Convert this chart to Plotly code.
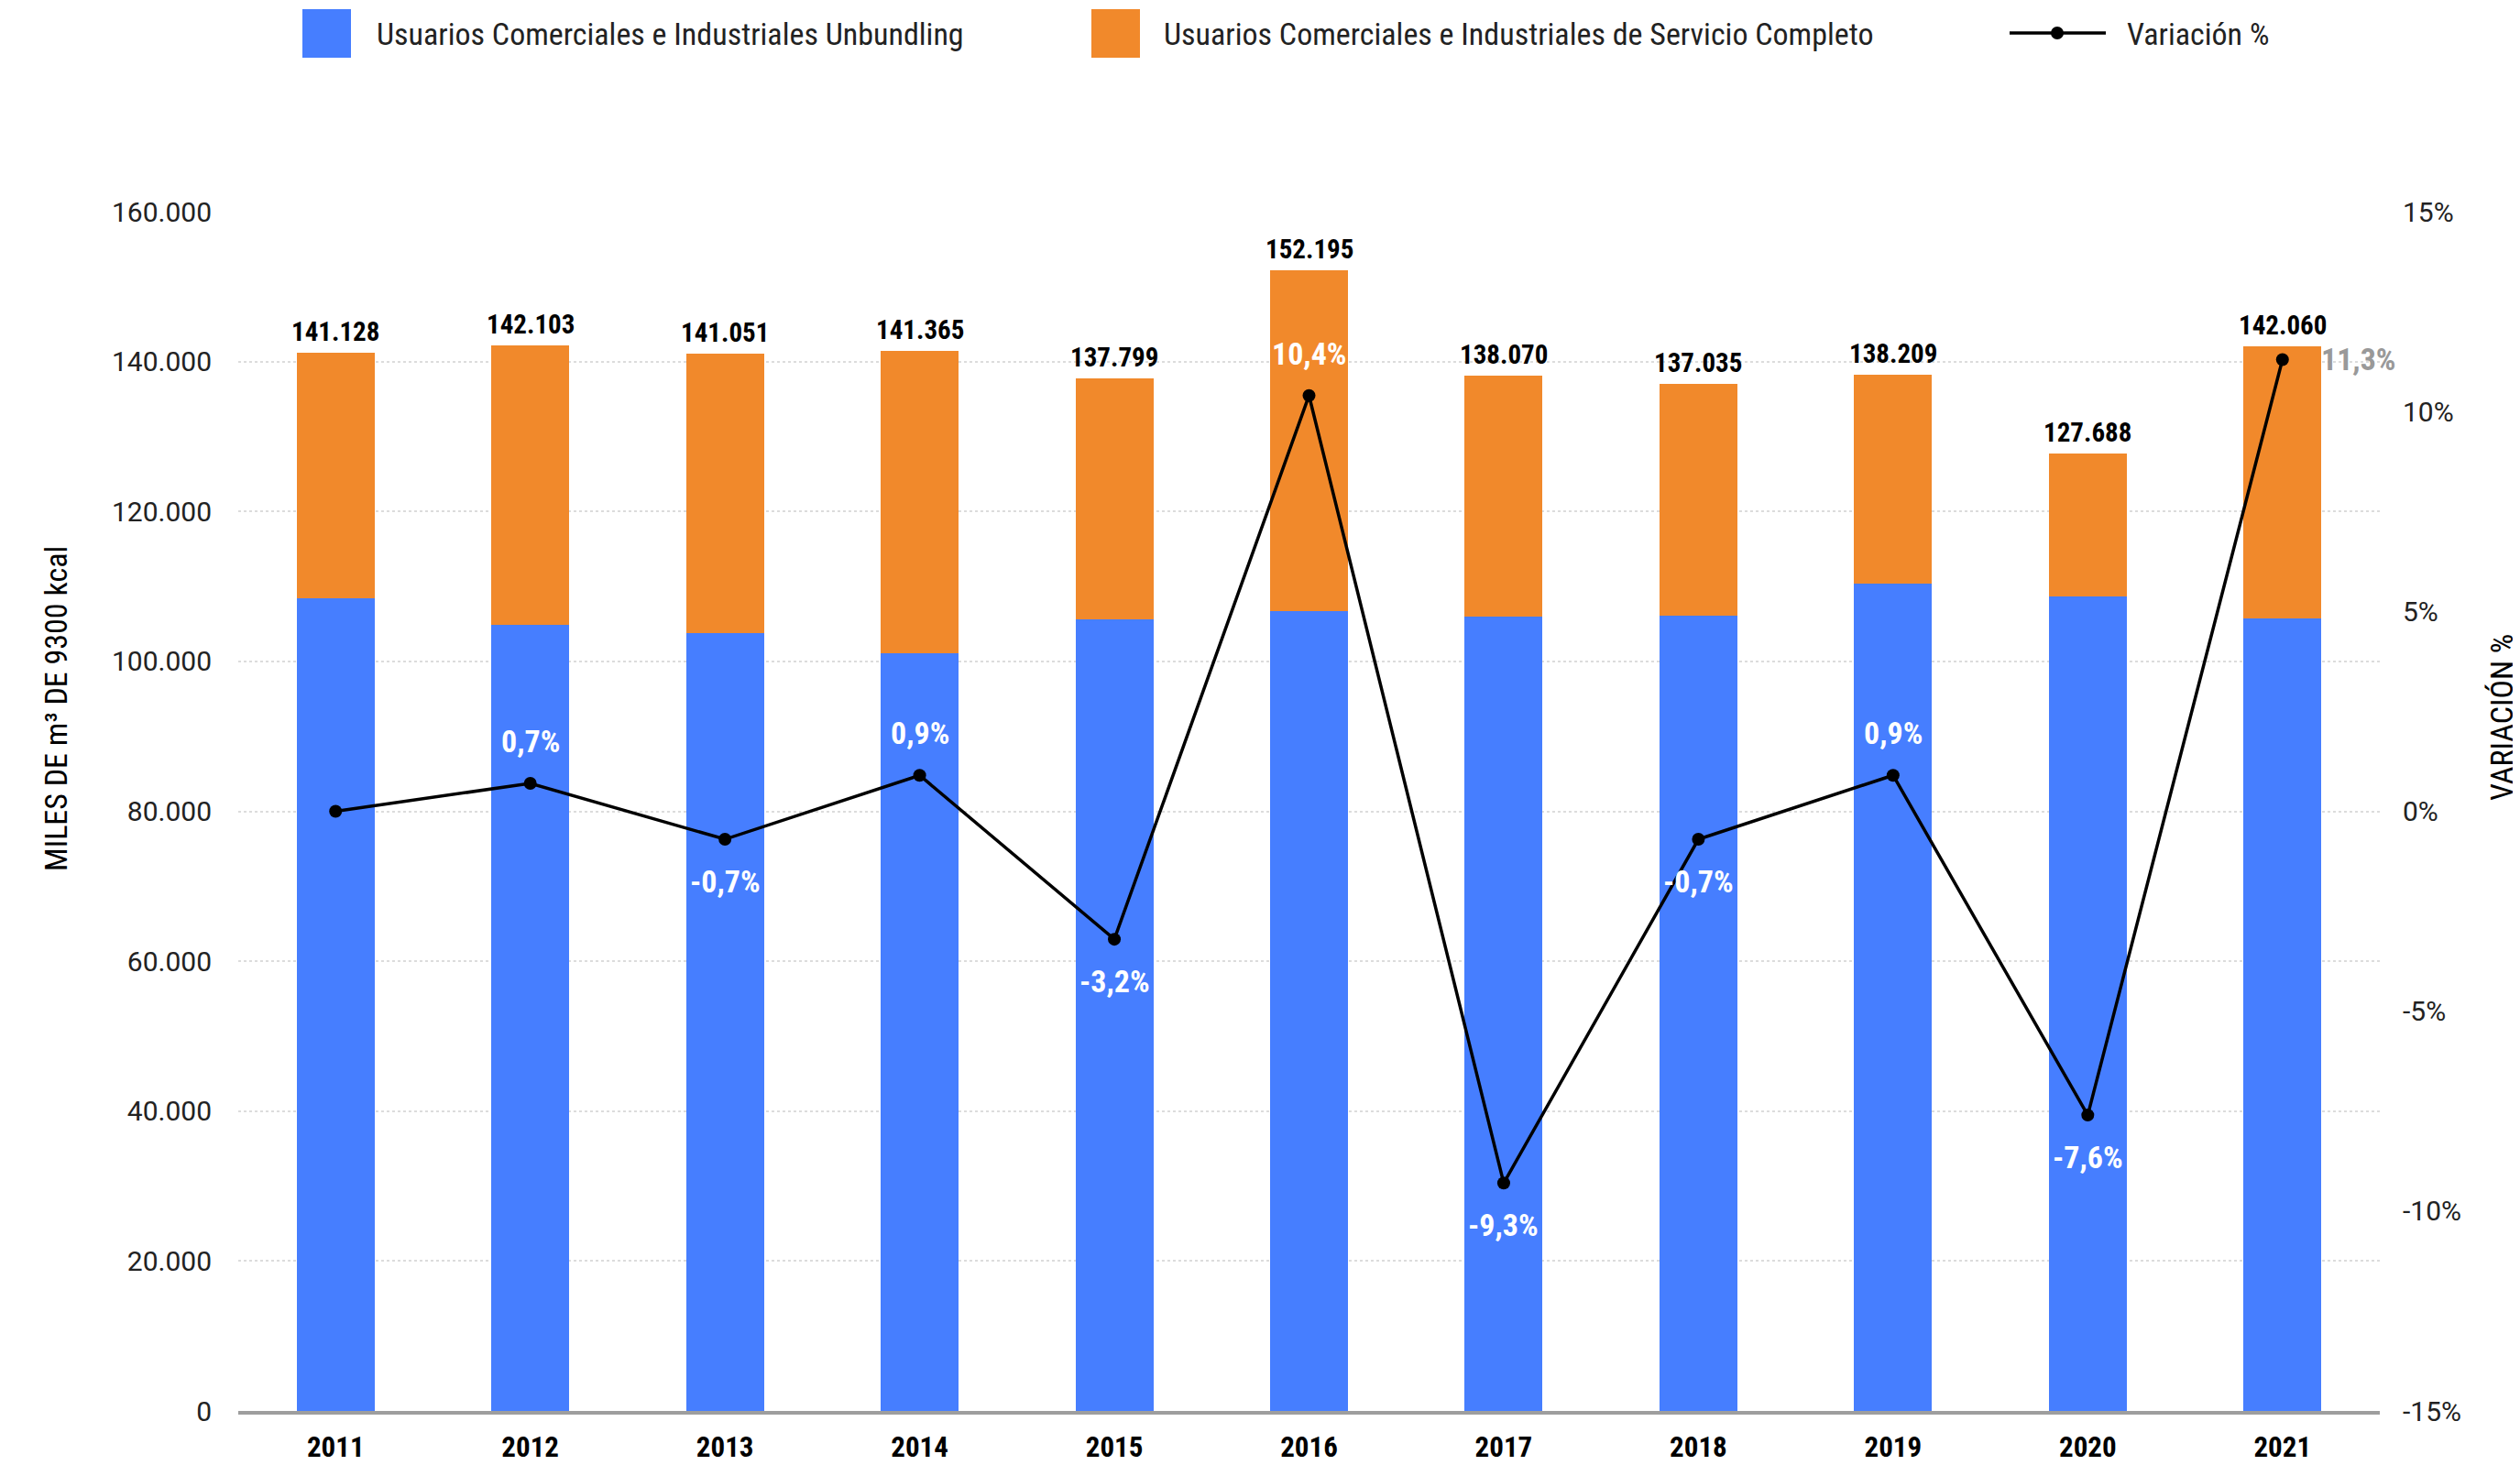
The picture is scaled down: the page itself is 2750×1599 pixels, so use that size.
import plotly.graph_objects as go

years = ["2011", "2012", "2013", "2014", "2015", "2016", "2017", "2018", "2019", "2020", "2021"]
unbundling = [108400, 104900, 103800, 101100, 105600, 106700, 106000, 106100, 110400, 108700, 105700]
totales = [141128, 142103, 141051, 141365, 137799, 152195, 138070, 137035, 138209, 127688, 142060]
servicio_completo = [t - u for t, u in zip(totales, unbundling)]
variacion = [0.0, 0.7, -0.7, 0.9, -3.2, 10.4, -9.3, -0.7, 0.9, -7.6, 11.3]
var_labels = ["", "0,7%", "-0,7%", "0,9%", "-3,2%", "10,4%", "-9,3%", "-0,7%", "0,9%", "-7,6%", "11,3%"]
total_labels = [f"{t:,}".replace(",", ".") for t in totales]
left_ticks = [0, 20000, 40000, 60000, 80000, 100000, 120000, 140000, 160000]
right_ticks = [-15, -10, -5, 0, 5, 10, 15]
right_tick_text = ["-15%", "-10%", "-5%", "0%", "5%", "10%", "15%"]

BLUE = "#467eff"
ORANGE = "#f1892b"
COND = "Roboto Condensed, Liberation Sans Narrow, Roboto, sans-serif"
REG = "Roboto, sans-serif"

# page has an 8px body margin: compensate so the plot lands where the reference has it
OFF = 8
W, H = 2750 - OFF, 1599 - OFF
L, R, T, B = 260 - OFF, 153, 231 - OFF, 59
pw, ph = W - L - R, H - T - B

def px(x):  # reference page pixel -> paper fraction
    return (x - OFF - L) / pw

def py(y):
    return (H - B - (y - OFF)) / ph

fig = go.Figure()
fig.add_trace(go.Bar(x=years, y=unbundling, marker_color=BLUE, name="Usuarios Comerciales e Industriales Unbundling",
                     marker_line_width=0))
fig.add_trace(go.Bar(x=years, y=servicio_completo, marker_color=ORANGE,
                     name="Usuarios Comerciales e Industriales de Servicio Completo", marker_line_width=0))
fig.add_trace(go.Scatter(x=years, y=variacion, yaxis="y2", mode="lines+markers", name="Variación %",
                         line=dict(color="black", width=3.5), marker=dict(color="black", size=14)))

annotations = []
for i, (t, lab) in enumerate(zip(totales, total_labels)):
    annotations.append(dict(x=i, y=t, xref="x", yref="y", text=f"<b>{lab}</b>", showarrow=False,
                            yanchor="bottom", yshift=4, font=dict(family=COND, size=29, color="black")))
last = len(years) - 1
for i, (v, lab) in enumerate(zip(variacion, var_labels)):
    if not lab:
        continue
    if i == last:
        annotations.append(dict(x=i, y=v, xref="x", yref="y2", text=f"<b>{lab}</b>", showarrow=False,
                                xanchor="left", xshift=40, font=dict(family=COND, size=34, color="#999999")))
    elif v >= 0:
        annotations.append(dict(x=i, y=v, xref="x", yref="y2", text=f"<b>{lab}</b>", showarrow=False,
                                yanchor="bottom", yshift=24, font=dict(family=COND, size=34, color="white")))
    else:
        annotations.append(dict(x=i, y=v, xref="x", yref="y2", text=f"<b>{lab}</b>", showarrow=False,
                                yanchor="top", yshift=-24, font=dict(family=COND, size=34, color="white")))

# axis titles
annotations.append(dict(x=px(39), y=py(774), xref="paper", yref="paper", text="MILES DE m³ DE 9300 kcal",
                        textangle=-90, showarrow=False, font=dict(family=COND, size=34, color="black")))
annotations.append(dict(x=px(2731), y=py(783), xref="paper", yref="paper", text="VARIACIÓN %",
                        textangle=-90, showarrow=False, xshift=20, borderpad=0,
                        font=dict(family=COND, size=34, color="black")))

# legend (manual)
leg_font = dict(family=COND, size=34, color="#222222")
for xt, txt in [(409, "Usuarios Comerciales e Industriales Unbundling"),
                (1268, "Usuarios Comerciales e Industriales de Servicio Completo"),
                (2319, "Variación %")]:
    annotations.append(dict(x=px(xt), y=py(37), xref="paper", yref="paper", xanchor="left", yanchor="middle",
                            text=txt, showarrow=False, font=leg_font))
shapes = [
    dict(type="rect", xref="paper", yref="paper", x0=px(330), x1=px(383), y0=py(63), y1=py(10),
         fillcolor=BLUE, line_width=0),
    dict(type="rect", xref="paper", yref="paper", x0=px(1191), x1=px(1244), y0=py(63), y1=py(10),
         fillcolor=ORANGE, line_width=0),
    dict(type="line", xref="paper", yref="paper", x0=px(2193), x1=px(2298), y0=py(36), y1=py(36),
         line=dict(color="black", width=3.5)),
    dict(type="circle", xref="paper", yref="paper", x0=px(2238), x1=px(2252), y0=py(43), y1=py(29),
         fillcolor="black", line_width=0),
]

fig.update_layout(
    width=W, height=H,
    margin=dict(l=L, r=R, t=T, b=B, pad=0, autoexpand=False),
    paper_bgcolor="white", plot_bgcolor="white",
    barmode="stack", bargap=0.6,
    showlegend=False,
    separators=",.",
    annotations=annotations,
    shapes=shapes,
    xaxis=dict(type="category", categoryorder="array", categoryarray=years, range=[-0.5, 10.5],
               automargin=False, showline=True, linecolor="#9e9e9e", linewidth=4,
               showgrid=False, ticks="", ticklabelstandoff=9,
               tickfont=dict(family=COND, size=31, color="black", weight="bold")),
    yaxis=dict(range=[0, 160000], tickvals=left_ticks, tickformat=",d", automargin=False,
               showgrid=True, gridcolor="#dcdcdc", griddash="dot", gridwidth=2, zeroline=False,
               ticks="", ticklabelstandoff=28, tickfont=dict(family=REG, size=30, color="#222222")),
    yaxis2=dict(range=[-15, 15], overlaying="y", side="right", tickvals=right_ticks, ticktext=right_tick_text,
                automargin=False, showgrid=False, zeroline=False, ticks="", ticklabelstandoff=24,
                tickfont=dict(family=REG, size=30, color="#222222")),
)

fig.write_html("out.html")
